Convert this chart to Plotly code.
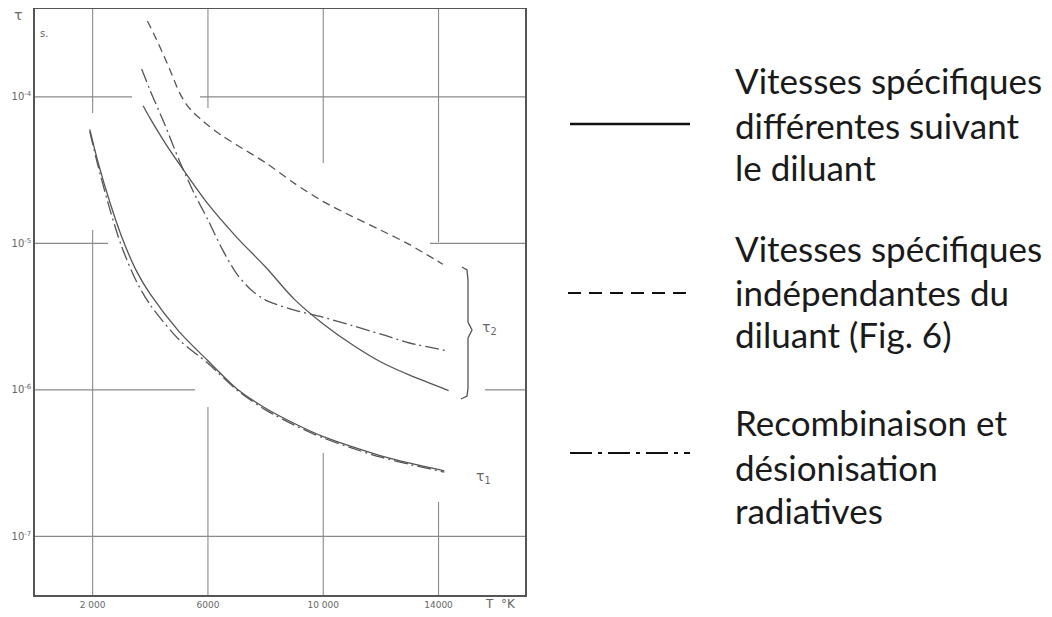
import math
import plotly.graph_objects as go

# ---------------- data ----------------
T_tau1_solid = [1900, 2200, 2600, 3000, 3500, 4000, 5000, 6000, 7000, 8000, 9000, 10000, 11000, 12000, 13000, 14200]
tau1_solid = [6.0e-5, 3.5e-5, 1.9e-5, 1.12e-5, 6.6e-6, 4.5e-6, 2.5e-6, 1.58e-6, 1.02e-6, 7.5e-7, 5.9e-7, 4.8e-7, 4.1e-7, 3.55e-7, 3.16e-7, 2.8e-7]

T_tau1_dashdot = [1900, 2200, 2600, 3000, 3500, 4000, 5000, 6000, 7000, 8000, 9000, 10000, 11000, 12000, 13000, 14200]
tau1_dashdot = [5.8e-5, 3.3e-5, 1.7e-5, 9.6e-6, 5.6e-6, 3.8e-6, 2.2e-6, 1.52e-6, 1.0e-6, 7.3e-7, 5.75e-7, 4.7e-7, 4.0e-7, 3.47e-7, 3.1e-7, 2.75e-7]

T_tau2_solid = [3750, 4000, 4500, 5000, 6000, 7000, 8000, 9000, 10000, 11000, 12000, 13000, 14350]
tau2_solid = [8.7e-5, 7.1e-5, 4.9e-5, 3.5e-5, 1.86e-5, 1.1e-5, 6.9e-6, 4.15e-6, 2.82e-6, 2.04e-6, 1.55e-6, 1.26e-6, 9.9e-7]

T_tau2_dashdot = [3700, 4000, 4500, 5000, 5500, 6000, 6500, 7000, 7500, 8000, 9000, 10000, 11000, 12000, 13000, 14350]
tau2_dashdot = [1.55e-4, 1.1e-4, 6.5e-5, 3.7e-5, 2.24e-5, 1.45e-5, 9.1e-6, 6.2e-6, 4.8e-6, 4.1e-6, 3.5e-6, 3.13e-6, 2.75e-6, 2.4e-6, 2.09e-6, 1.84e-6]

T_tau2_dashed = [3900, 4200, 4500, 4750, 5000, 5250, 5500, 5750, 6000, 6500, 7000, 8000, 9000, 10000, 11000, 12000, 13000, 14150]
tau2_dashed = [3.3e-4, 2.5e-4, 1.85e-4, 1.42e-4, 1.08e-4, 8.9e-5, 7.8e-5, 7.05e-5, 6.4e-5, 5.42e-5, 4.7e-5, 3.55e-5, 2.57e-5, 1.93e-5, 1.53e-5, 1.23e-5, 9.8e-6, 7.2e-6]

x_tickvals = [2000, 6000, 10000, 14000]
x_ticktext = ["2 000", "6000", "10 000", "14000"]
y_tickvals = [1e-4, 1e-5, 1e-6, 1e-7]
y_ticktext = ["10<sup>-4</sup>", "10<sup>-5</sup>", "10<sup>-6</sup>", "10<sup>-7</sup>"]

legend_lines = [
    ["Vitesses spécifiques", "différentes suivant", "le diluant"],
    ["Vitesses spécifiques", "indépendantes du", "diluant (Fig. 6)"],
    ["Recombinaison et", "désionisation", "radiatives"],
]

# ---------------- figure ----------------
OFF = 8  # page body margin
W, H = 1052 - OFF, 617 - OFF
L, R, TOP, BOT = 35, 525, 9, 595  # target screenshot pixels of the plot frame
XR = [0, 17000]
YR = [-7.4, -3.4]
CURVE = "#555555"
GRID = "#8a8a8a"
DASHDOT = "14px,4px,2px,4px"


def px(x):
    return (x - L) / (R - L)


def py(y):
    return (BOT - y) / (BOT - TOP)


fig = go.Figure()


def add(xs, ys, dash):
    fig.add_trace(go.Scatter(x=xs, y=ys, mode="lines",
                             line=dict(color=CURVE, width=1.3, dash=dash, shape="spline", smoothing=0.8),
                             showlegend=False, hoverinfo="skip"))


add(T_tau1_solid, tau1_solid, "solid")
add(T_tau1_dashdot, tau1_dashdot, DASHDOT)
add(T_tau2_solid, tau2_solid, "solid")
add(T_tau2_dashdot, tau2_dashdot, DASHDOT)
add(T_tau2_dashed, tau2_dashed, "8px,5px")

axis_font = dict(family="DejaVu Sans", size=9, color="#666666")

fig.update_xaxes(range=XR, tickvals=x_tickvals, ticktext=x_ticktext, showgrid=False,
                 zeroline=False, showline=True, linecolor="#555555", linewidth=1.5, mirror=True,
                 ticks="", tickfont=axis_font, automargin=False)
fig.update_yaxes(type="log", range=YR, tickvals=y_tickvals, ticktext=y_ticktext, showgrid=False,
                 zeroline=False, showline=True, linecolor="#555555", linewidth=1.5,
                 mirror=True, ticks="", tickfont=dict(family="DejaVu Sans", size=10, color="#666666"),
                 automargin=False)

shapes = []
# hand-drawn grid lines, interrupted where the curves pass (gap extents in screen pixels)
v_gaps = {2000: (113, 230), 6000: (108, 407), 10000: (163, 453), 14000: (242, 502)}
for tv in x_tickvals:
    xp = (tv - XR[0]) / (XR[1] - XR[0])
    g0, g1 = v_gaps[tv]
    for a, b in [(TOP, g0), (g1, BOT)]:
        shapes.append(dict(type="line", xref="paper", yref="paper", x0=xp, x1=xp, y0=py(a), y1=py(b),
                           line=dict(color=GRID, width=1.1), layer="below"))
h_gaps = {1e-4: (132, 200), 1e-5: (108, 430), 1e-6: (195, 485), 1e-7: None}
for tv in y_tickvals:
    yp = (math.log10(tv) - YR[0]) / (YR[1] - YR[0])
    gap = h_gaps[tv]
    segs = [(L, R)] if gap is None else [(L, gap[0]), (gap[1], R)]
    for a, b in segs:
        shapes.append(dict(type="line", xref="paper", yref="paper", x0=px(a), x1=px(b), y0=yp, y1=yp,
                           line=dict(color=GRID, width=1.1), layer="below"))

annotations = []
grey = "#666666"
annotations.append(dict(x=px(18), y=py(15), xref="paper", yref="paper", text="τ", showarrow=False,
                        font=dict(family="DejaVu Sans", size=14, color=grey), xanchor="center", yanchor="middle"))
annotations.append(dict(x=px(44), y=py(34), xref="paper", yref="paper", text="s.", showarrow=False,
                        font=dict(family="DejaVu Sans", size=10, color=grey), xanchor="center", yanchor="middle"))
annotations.append(dict(x=px(500), y=py(604), xref="paper", yref="paper", text="T  °K", showarrow=False,
                        font=dict(family="DejaVu Sans", size=12, color=grey), xanchor="center", yanchor="middle"))
annotations.append(dict(x=px(489), y=py(328), xref="paper", yref="paper", text="τ<sub>2</sub>", showarrow=False,
                        font=dict(family="DejaVu Sans", size=14, color=grey), xanchor="center", yanchor="middle"))
annotations.append(dict(x=px(483), y=py(477), xref="paper", yref="paper", text="τ<sub>1</sub>", showarrow=False,
                        font=dict(family="DejaVu Sans", size=14, color=grey), xanchor="center", yanchor="middle"))

block_y = [[80, 125, 167], [248, 292, 334], [422, 467, 510]]
for lines, ys in zip(legend_lines, block_y):
    for t, yy in zip(lines, ys):
        annotations.append(dict(x=px(733), y=py(yy), xref="paper", yref="paper", text=t, showarrow=False,
                                font=dict(family="Lato", size=35, color="#1a1a1a"), xanchor="left",
                                yanchor="middle"))

# legend line samples
shapes.append(dict(type="line", xref="paper", yref="paper", x0=px(570), x1=px(690), y0=py(124), y1=py(124),
                   line=dict(color="#111111", width=2.5)))
shapes.append(dict(type="line", xref="paper", yref="paper", x0=px(568), x1=px(690), y0=py(293), y1=py(293),
                   line=dict(color="#111111", width=1.8, dash="13px,8px")))
shapes.append(dict(type="line", xref="paper", yref="paper", x0=px(570), x1=px(690), y0=py(453), y1=py(453),
                   line=dict(color="#111111", width=1.8, dash="22px,6px,4px,6px")))

# brace for tau2
pts = [(462, 267), (467, 270), (468, 280), (468, 322), (472, 330), (468, 338), (468, 388), (467, 396), (461, 399)]
path = "M " + " L ".join(f"{px(a):.5f},{py(b):.5f}" for a, b in pts)
shapes.append(dict(type="path", xref="paper", yref="paper", path=path, line=dict(color="#555555", width=1.3)))

fig.update_layout(width=W, height=H,
                  margin=dict(l=L - OFF, r=W - (R - OFF), t=TOP - OFF, b=H - (BOT - OFF)),
                  plot_bgcolor="white", paper_bgcolor="white", annotations=annotations, shapes=shapes,
                  showlegend=False)

fig.write_html("out.html")
